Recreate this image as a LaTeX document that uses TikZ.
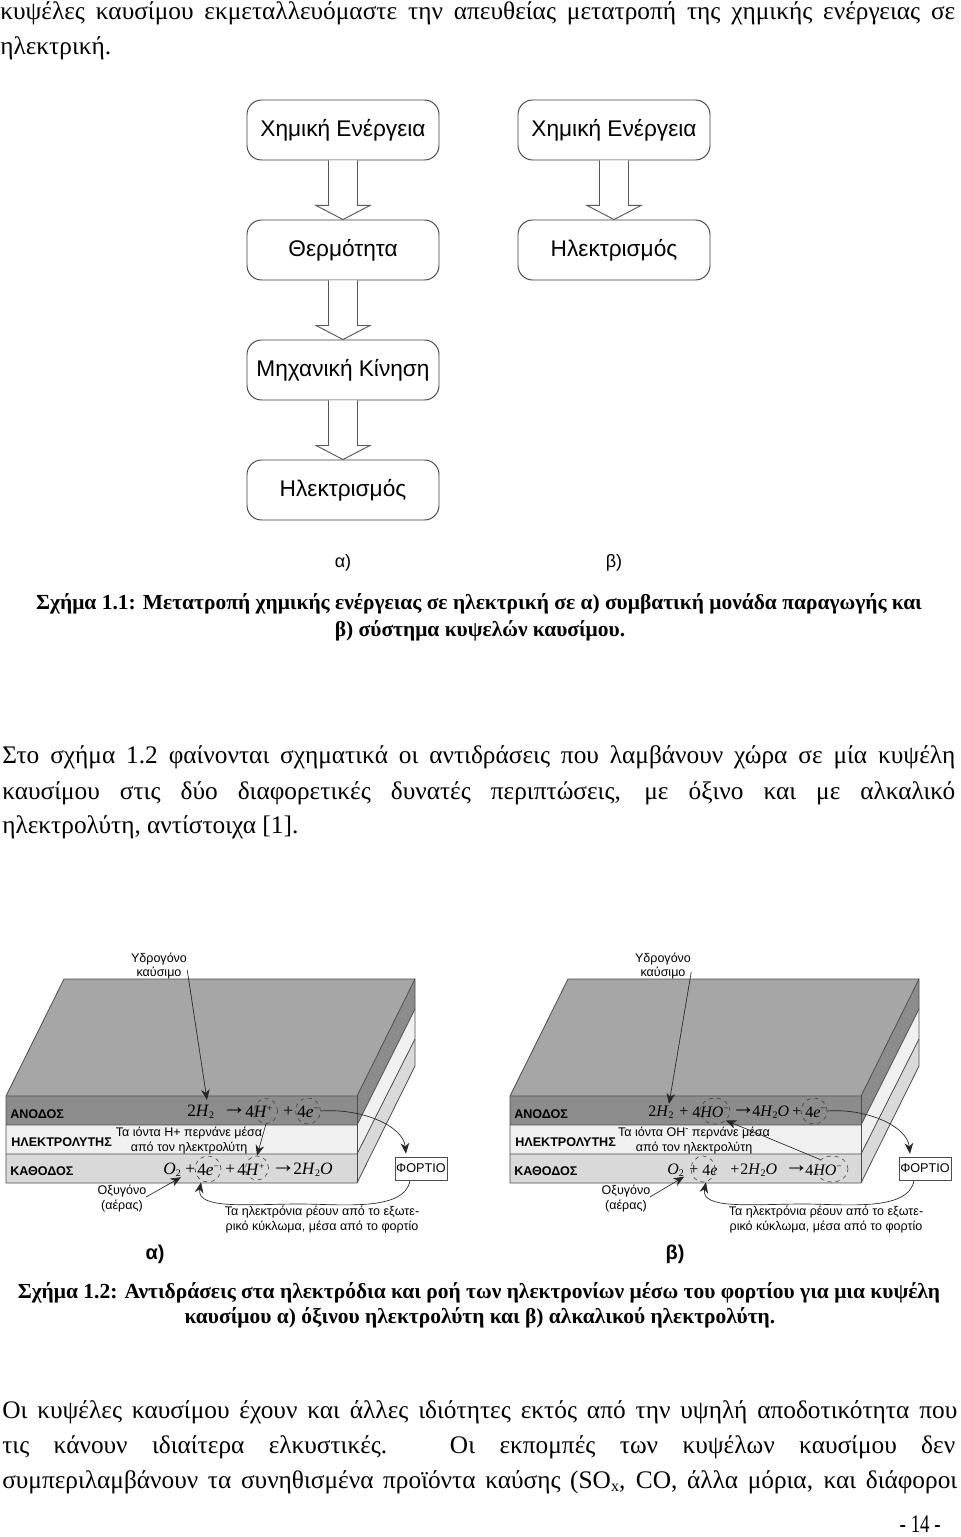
\documentclass[tikz,border=0pt]{standalone}
\usepackage{graphicx}
\usepackage{fontspec}
\setmainfont{Liberation Serif}
\newfontfamily\arialf{Liberation Sans}
\usetikzlibrary{calc,arrows.meta,shapes.geometric}
\newdimen\px \px=0.75pt
\definecolor{topg}{gray}{0.65}
\definecolor{anog}{gray}{0.55}
\definecolor{elcg}{gray}{0.94}
\definecolor{catg}{gray}{0.85}
\definecolor{edgeg}{gray}{0.3}
\newsavebox{\fitbox}
\newcommand{\fitline}[2]{\sbox{\fitbox}{#2}\ifdim\wd\fitbox>#1\relax\resizebox{#1}{\height}{#2}\else\makebox[#1][s]{#2}\fi}
\tikzset{
 body/.style={anchor=west,inner sep=0pt,font=\fontsize{19}{21}\selectfont},
 capt/.style={inner sep=0pt,font=\bfseries\fontsize{16.1}{18}\selectfont},
 flowbox/.style={draw=black!75,line width=0.7pt,rounded corners=11pt,minimum width=192\px,minimum height=60\px,inner sep=0pt,font=\arialf\fontsize{17}{19}\selectfont},
 blockarrow/.style={draw=black!65,fill=white,line width=0.7pt},
 flab/.style={inner sep=0pt,font=\arialf\fontsize{13.5}{16}\selectfont},
 slab/.style={inner sep=0pt,align=center,font=\arialf\fontsize{9.4}{11.2}\selectfont},
 lay/.style={anchor=west,inner sep=0pt,font=\arialf\bfseries\fontsize{9.45}{11}\selectfont},
 eqt/.style={anchor=west,inner sep=0pt,font=\fontsize{13}{15}\selectfont},
 eqb/.style={anchor=west,inner sep=0pt,font=\fontsize{12}{14}\selectfont},
 eqarr/.style={anchor=west,inner sep=0pt,font=\fontsize{18}{18}\selectfont},
 ring/.style={ellipse,draw=black!75,dashed,line width=0.45pt,inner sep=0pt},
 conn/.style={draw=black!85,line width=0.5pt,-{Stealth[length=8pt,width=6.5pt]}},
 loadbox/.style={draw=black!70,fill=white,line width=0.5pt,minimum width=52\px,minimum height=23\px,inner sep=0pt,font=\arialf\fontsize{9.5}{11}\selectfont},
 panel/.style={inner sep=0pt,font=\arialf\bfseries\fontsize{15}{18}\selectfont},
 slabedge/.style={draw=edgeg,line width=0.6pt}
}
\newcommand{\blockarr}[2]{%
 \draw[blockarrow] ($(#1.south)+(-14.5,0)$) -- ($(#1.south)+(-14.5,45)$) -- ($(#1.south)+(-27,45)$) -- (#2.north) -- ($(#1.south)+(27,45)$) -- ($(#1.south)+(14.5,45)$) -- ($(#1.south)+(14.5,0)$);}
\newcommand{\sbt}[1]{\raisebox{-0.3ex}{\fontsize{7.5}{8}\selectfont #1}}
\newcommand{\spt}[1]{\raisebox{0.75ex}{\fontsize{7}{8}\selectfont #1}}
\newcommand{\cellbase}{%
 \fill[anog] (6,1096) -- (357,1096) -- (415,979) -- (415,1009) -- (357,1125) -- (6,1125) -- cycle;
 \fill[topg] (6,1096) -- (64,979) -- (415,979) -- (357,1096) -- cycle;
 \fill[elcg] (6,1125) -- (357,1125) -- (415,1009) -- (415,1039) -- (357,1154) -- (6,1154) -- cycle;
 \fill[catg] (6,1154) -- (357,1154) -- (415,1039) -- (415,1066) -- (357,1183) -- (6,1183) -- cycle;
 \draw[slabedge] (6,1096) -- (64,979) -- (415,979) -- (415,1066) -- (357,1183) -- (6,1183) -- cycle;
 \draw[slabedge] (6,1096) -- (357,1096) -- (415,979);
 \draw[slabedge] (6,1125) -- (357,1125) -- (415,1009);
 \draw[slabedge] (6,1154) -- (357,1154) -- (415,1039);
 \draw[slabedge] (357,1096) -- (357,1183);
 \node[slab] (h2lab) at (159,966) {Υδρογόνο\\καύσιμο};
 \node[lay] (anlab) at (10,1114) {ΑΝΟΔΟΣ};
 \node[lay] (ellab) at (11,1142) {ΗΛΕΚΤΡΟΛΥΤΗΣ};
 \node[lay] (calab) at (10,1171) {ΚΑΘΟΔΟΣ};
 \node[slab] (o2lab) at (122,1198.5) {Οξυγόνο\\(αέρας)};
 \node[slab] (flow) at (322,1220) {Τα ηλεκτρόνια ρέουν από το εξωτε-\\ρικό κύκλωμα, μέσα από το φορτίο};
 \node[loadbox] (load) at (421,1168.5) {ΦΟΡΤΙΟ};
 \coordinate (o2tail) at (146,1197);
}
\begin{document}
\begin{tikzpicture}[x=0.75pt,y=-0.75pt]
\useasboundingbox (0,0) rectangle (960,1537);
\fill[white] (0,0) rectangle (960,1537);
% top text
\node[body] (t1) at (0,13) {\fitline{955\px}{κυψέλες καυσίμου εκμεταλλευόμαστε την απευθείας μετατροπή της χημικής ενέργειας σε}};
\node[body] (t2) at (0,48) {ηλεκτρική.};
% flow boxes
\node[flowbox] (a1) at (343,130) {Χημική Ενέργεια};
\node[flowbox] (a2) at (343,250) {Θερμότητα};
\node[flowbox] (a3) at (343,370) {Μηχανική Κίνηση};
\node[flowbox] (a4) at (343,490) {Ηλεκτρισμός};
\node[flowbox] (b1) at (614,130) {Χημική Ενέργεια};
\node[flowbox] (b2) at (614,250) {Ηλεκτρισμός};
\blockarr{a1}{a2}
\blockarr{a2}{a3}
\blockarr{a3}{a4}
\blockarr{b1}{b2}
\node[flab] (la) at (343,563) {α)};
\node[flab] (lb) at (614,563) {β)};
\node[capt] (c1a) at (479,604) {Σχήμα 1.1: Μετατροπή χημικής ενέργειας σε ηλεκτρική σε α) συμβατική μονάδα παραγωγής και};
\node[capt] (c1b) at (480,631) {β) σύστημα κυψελών καυσίμου.};
% paragraph
\node[body] (p1) at (2,757) {\fitline{953\px}{Στο σχήμα 1.2 φαίνονται σχηματικά οι αντιδράσεις που λαμβάνουν χώρα σε μία κυψέλη}};
\node[body] (p2) at (2,793) {\fitline{953\px}{καυσίμου στις δύο διαφορετικές δυνατές περιπτώσεις, με όξινο και με αλκαλικό}};
\node[body] (p3) at (2,827) {ηλεκτρολύτη, αντίστοιχα [1].};
% cell a
\begin{scope}[name prefix=a-]
\cellbase
\node[slab] (ion) at (189,1140.5) {Τα ιόντα Η+ περνάνε μέσα\\από τον ηλεκτρολύτη};
\node[eqt] (e1) at (187,1112) {2\textit{H}\sbt{2}};
\node[eqarr] (e2) at (222,1111) {→};
\node[eqt] (e3) at (245,1112) {4\textit{H}\spt{+}};
\node[eqt] (e4) at (283,1112) {+};
\node[eqt] (e5) at (297,1112) {4\textit{e}\spt{−}};
\node[eqt] (e6) at (163,1170) {\textit{O}\sbt{2}};
\node[eqt] (e7) at (185,1170) {+};
\node[eqt] (e8) at (197,1170) {4\textit{e}\spt{−}};
\node[eqt] (e9) at (225,1170) {+};
\node[eqt] (e10) at (237,1170) {4\textit{H}\spt{+}};
\node[eqarr] (e11) at (271,1169) {→};
\node[eqt] (e12) at (293,1170) {2\textit{H}\sbt{2}\textit{O}};
\node[ring,minimum width=23\px,minimum height=25\px] (hp) at (266,1111) {};
\node[ring,minimum width=25\px,minimum height=26\px] (ean) at (308,1111) {};
\node[ring,minimum width=26\px,minimum height=26\px] (eca) at (208,1169) {};
\node[ring,minimum width=23\px,minimum height=24\px] (hc) at (257,1168) {};
\node[panel] (pan) at (155,1254) {α)};
\draw[conn] (h2lab.east |- 0,970) -- (207,1100);
\draw[conn] (hp.south) -- (hc.north);
\draw[conn] (ean.east) .. controls (360,1108) and (403,1125) .. ($(load.north)+(-15,-3)$);
\draw[conn] ($(load.south)+(-11,0)$) .. controls (405,1212) and (340,1204) .. (300,1204) .. controls (250,1204) and (196,1210) .. ($(eca.south)+(-7,0)$);
\draw[conn] (o2tail) -- (e6.south east);
\end{scope}
% cell b
\begin{scope}[xshift=378pt,name prefix=b-]
\cellbase
\node[slab] (ion) at (190,1140.5) {Τα ιόντα ΟΗ\spt{-} περνάνε μέσα\\από τον ηλεκτρολύτη};
\node[eqb] (e1) at (144,1112) {2\textit{H}\sbt{2}};
\node[eqb] (e2) at (175,1112) {+};
\node[eqb] (e3) at (188,1112) {4\textit{HO}\spt{−}};
\node[eqarr] (e4) at (227,1111) {→};
\node[eqb] (e5) at (248,1112) {4\textit{H}\sbt{2}\textit{O}};
\node[eqb] (e6) at (288,1112) {+};
\node[eqb] (e7) at (301,1112) {4\textit{e}\spt{−}};
\node[eqb] (e8) at (163,1170) {\textit{O}\sbt{2}};
\node[eqb] (e9) at (185,1170) {+};
\node[eqb] (e10) at (198,1170) {4\textit{e}};
\node[eqb] (e11) at (226,1170) {+};
\node[eqb] (e12) at (236,1170) {2\textit{H}\sbt{2}\textit{O}};
\node[eqarr] (e13) at (280,1169) {→};
\node[eqb] (e14) at (301,1170) {4\textit{HO}\spt{−}};
\node[ring,minimum width=30\px,minimum height=26\px] (hoa) at (211,1111) {};
\node[ring,minimum width=26\px,minimum height=26\px] (ean) at (310,1111) {};
\node[ring,minimum width=24\px,minimum height=26\px] (eca) at (199,1169) {};
\node[ring,minimum width=32\px,minimum height=26\px] (hoc) at (328,1169) {};
\node[panel] (pan) at (171,1254) {β)};
\draw[conn] (h2lab.east |- 0,972) -- (165,1104);
\draw[conn] (hoc.north west) -- (hoa.south east);
\draw[conn] (ean.east) .. controls (360,1108) and (403,1125) .. ($(load.north)+(-15,-3)$);
\draw[conn] ($(load.south)+(-11,0)$) .. controls (405,1212) and (340,1204) .. (300,1204) .. controls (250,1204) and (196,1210) .. ($(eca.south)+(3,0)$);
\draw[conn] (o2tail) -- (e8.south east);
\end{scope}
% caption 2
\node[capt] (c2a) at (479,1293) {Σχήμα 1.2: Αντιδράσεις στα ηλεκτρόδια και ροή των ηλεκτρονίων μέσω του φορτίου για μια κυψέλη};
\node[capt] (c2b) at (480,1318) {καυσίμου α) όξινου ηλεκτρολύτη και β) αλκαλικού ηλεκτρολύτη.};
% lower paragraph
\node[body] (q1) at (2,1412) {\fitline{955\px}{Οι κυψέλες καυσίμου έχουν και άλλες ιδιότητες εκτός από την υψηλή αποδοτικότητα που}};
\node[body] (q2) at (2,1447) {\fitline{953\px}{τις κάνουν ιδιαίτερα ελκυστικές. Οι εκπομπές των κυψέλων καυσίμου δεν}};
\node[body] (q3) at (2,1482) {\fitline{955\px}{συμπεριλαμβάνουν τα συνηθισμένα προϊόντα καύσης (SO\raisebox{-0.3ex}{\fontsize{12}{12}\selectfont x}, CO, άλλα μόρια, και διάφοροι}};
\node[body,anchor=east] (pg) at (941,1524) {\resizebox{41\px}{\height}{- 14 -}};
\end{tikzpicture}
\end{document}
